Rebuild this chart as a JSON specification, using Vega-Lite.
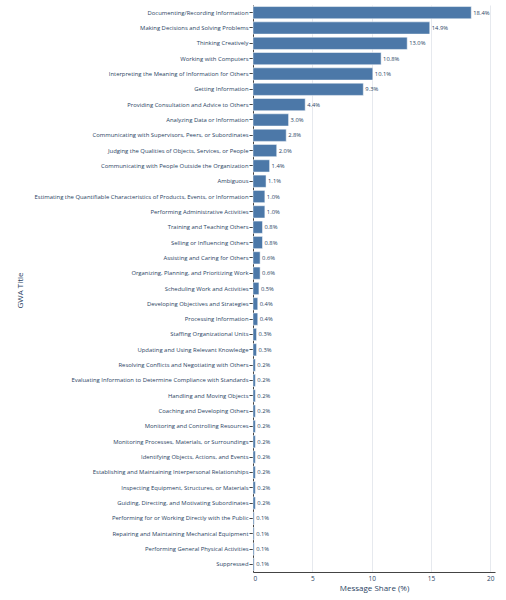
{
  "$schema": "https://vega.github.io/schema/vega-lite/v6.json",
  "autosize": "none",
  "padding": {"left": 253, "top": 5, "right": 11, "bottom": 28},
  "width": 242,
  "height": 567,
  "background": "white",
  "config": {
    "view": {"stroke": null},
    "font": "Open Sans"
  },
  "data": {
    "values": [
      {"gwa": "Documenting/Recording Information", "share": 18.4},
      {"gwa": "Making Decisions and Solving Problems", "share": 14.9},
      {"gwa": "Thinking Creatively", "share": 13.0},
      {"gwa": "Working with Computers", "share": 10.8},
      {"gwa": "Interpreting the Meaning of Information for Others", "share": 10.1},
      {"gwa": "Getting Information", "share": 9.3},
      {"gwa": "Providing Consultation and Advice to Others", "share": 4.4},
      {"gwa": "Analyzing Data or Information", "share": 3.0},
      {"gwa": "Communicating with Supervisors, Peers, or Subordinates", "share": 2.8},
      {"gwa": "Judging the Qualities of Objects, Services, or People", "share": 2.0},
      {"gwa": "Communicating with People Outside the Organization", "share": 1.4},
      {"gwa": "Ambiguous", "share": 1.1},
      {"gwa": "Estimating the Quantifiable Characteristics of Products, Events, or Information", "share": 1.0},
      {"gwa": "Performing Administrative Activities", "share": 1.0},
      {"gwa": "Training and Teaching Others", "share": 0.8},
      {"gwa": "Selling or Influencing Others", "share": 0.8},
      {"gwa": "Assisting and Caring for Others", "share": 0.6},
      {"gwa": "Organizing, Planning, and Prioritizing Work", "share": 0.6},
      {"gwa": "Scheduling Work and Activities", "share": 0.5},
      {"gwa": "Developing Objectives and Strategies", "share": 0.4},
      {"gwa": "Processing Information", "share": 0.4},
      {"gwa": "Staffing Organizational Units", "share": 0.3},
      {"gwa": "Updating and Using Relevant Knowledge", "share": 0.3},
      {"gwa": "Resolving Conflicts and Negotiating with Others", "share": 0.2},
      {"gwa": "Evaluating Information to Determine Compliance with Standards", "share": 0.2},
      {"gwa": "Handling and Moving Objects", "share": 0.2},
      {"gwa": "Coaching and Developing Others", "share": 0.2},
      {"gwa": "Monitoring and Controlling Resources", "share": 0.2},
      {"gwa": "Monitoring Processes, Materials, or Surroundings", "share": 0.2},
      {"gwa": "Identifying Objects, Actions, and Events", "share": 0.2},
      {"gwa": "Establishing and Maintaining Interpersonal Relationships", "share": 0.2},
      {"gwa": "Inspecting Equipment, Structures, or Materials", "share": 0.2},
      {"gwa": "Guiding, Directing, and Motivating Subordinates", "share": 0.2},
      {"gwa": "Performing for or Working Directly with the Public", "share": 0.1},
      {"gwa": "Repairing and Maintaining Mechanical Equipment", "share": 0.1},
      {"gwa": "Performing General Physical Activities", "share": 0.1},
      {"gwa": "Suppressed", "share": 0.1}
    ]
  },
  "encoding": {
    "y": {
      "field": "gwa",
      "type": "nominal",
      "sort": null,
      "title": "GWA Title",
      "scale": {"paddingInner": 0.2, "paddingOuter": 0.1},
      "axis": {
        "labelFontSize": 5.9,
        "labelColor": "#2a3f5f",
        "labelLimit": 260,
        "labelPadding": 1,
        "tickSize": 4,
        "tickColor": "#444444",
        "domainColor": "#444444",
        "titleColor": "#2a3f5f",
        "titleFontSize": 8,
        "titleFontWeight": "normal",
        "titleX": -233,
        "titleY": 285,
        "titleAngle": -90,
        "titleAlign": "center",
        "titleBaseline": "middle"
      }
    },
    "x": {
      "field": "share",
      "type": "quantitative",
      "title": "Message Share (%)",
      "scale": {"domain": [0, 20.4], "nice": false},
      "axis": {
        "values": [0, 5, 10, 15, 20],
        "grid": true,
        "gridColor": "#e6e9ee",
        "labelFontSize": 6.5,
        "labelColor": "#2a3f5f",
        "labelPadding": 3,
        "tickSize": 0,
        "domainColor": "#444444",
        "titleColor": "#2a3f5f",
        "titleFontSize": 8,
        "titleFontWeight": "normal",
        "titlePadding": 3
      }
    }
  },
  "layer": [
    {
      "mark": {"type": "bar", "color": "#4c78a8", "stroke": "white", "strokeWidth": 0.5}
    },
    {
      "transform": [
        {"calculate": "format(datum.share, '.1f') + '%'", "as": "label"}
      ],
      "mark": {"type": "text", "align": "left", "dx": 2, "fontSize": 5.8, "color": "#2a3f5f"},
      "encoding": {
        "text": {"field": "label", "type": "nominal"}
      }
    }
  ]
}
